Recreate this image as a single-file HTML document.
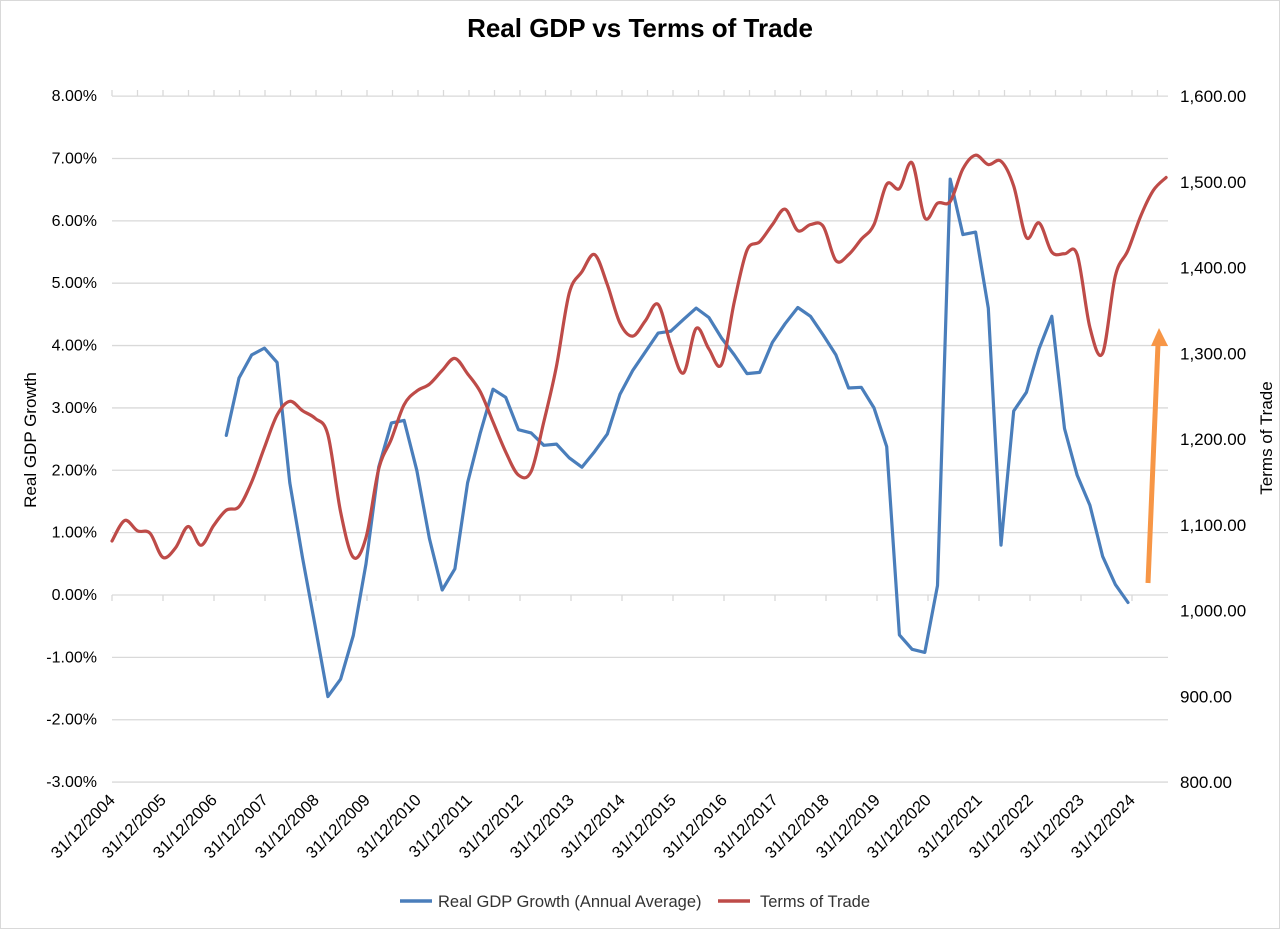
<!DOCTYPE html>
<html><head><meta charset="utf-8"><style>
html,body{margin:0;padding:0;background:#fff;}
svg{display:block;font-family:"Liberation Sans",sans-serif;}
</style></head><body>
<svg id="chart" width="1280" height="929" viewBox="0 0 1280 929">
<rect x="0.5" y="0.5" width="1279" height="928" fill="#fff" stroke="#d9d9d9"/>
<text x="640" y="37" text-anchor="middle" font-size="26" font-weight="bold" fill="#000">Real GDP vs Terms of Trade</text>
<g id="grid"></g><g id="axes"></g><g id="series"></g>
<text transform="translate(36,440) rotate(-90)" text-anchor="middle" font-size="17" fill="#000">Real GDP Growth</text>
<text transform="translate(1272,438) rotate(-90)" text-anchor="middle" font-size="17" fill="#000">Terms of Trade</text>
<g>
<line x1="400" y1="901" x2="432" y2="901" stroke="#4a7ebb" stroke-width="3.5"/>
<text x="438" y="907" font-size="16.5" fill="#333">Real GDP Growth (Annual Average)</text>
<line x1="718" y1="901" x2="750" y2="901" stroke="#be4b48" stroke-width="3.5"/>
<text x="760" y="907" font-size="16.5" fill="#333">Terms of Trade</text>
</g>
<g>
<line x1="1148" y1="583" x2="1158" y2="344" stroke="#f79646" stroke-width="5"/>
<polygon points="1159,328 1151,346 1168,346" fill="#f79646"/>
</g>
</svg>
<script>
const leftTicks=[-3,-2,-1,0,1,2,3,4,5,6,7,8];
const leftTickLabels=["-3.00%","-2.00%","-1.00%","0.00%","1.00%","2.00%","3.00%","4.00%","5.00%","6.00%","7.00%","8.00%"];
const rightTicks=[800,900,1000,1100,1200,1300,1400,1500,1600];
const rightTickLabels=["800.00","900.00","1,000.00","1,100.00","1,200.00","1,300.00","1,400.00","1,500.00","1,600.00"];
const yearLabels=["31/12/2004","31/12/2005","31/12/2006","31/12/2007","31/12/2008","31/12/2009","31/12/2010","31/12/2011","31/12/2012","31/12/2013","31/12/2014","31/12/2015","31/12/2016","31/12/2017","31/12/2018","31/12/2019","31/12/2020","31/12/2021","31/12/2022","31/12/2023","31/12/2024"];
const gdpStart=9;
const gdpGrowth=[2.56,3.48,3.85,3.96,3.73,1.8,0.6,-0.5,-1.63,-1.35,-0.65,0.5,2.05,2.76,2.8,2.0,0.9,0.08,0.42,1.8,2.6,3.3,3.17,2.65,2.6,2.4,2.42,2.2,2.05,2.3,2.58,3.22,3.6,3.9,4.2,4.23,4.42,4.6,4.45,4.12,3.85,3.55,3.57,4.05,4.35,4.61,4.47,4.17,3.85,3.32,3.33,3.0,2.38,-0.64,-0.87,-0.92,0.15,6.67,5.78,5.82,4.6,0.8,2.95,3.25,3.95,4.47,2.67,1.92,1.44,0.62,0.17,-0.12];
const termsOfTrade=[1081,1105,1093,1090,1062,1073,1098,1076,1099,1117,1121,1150,1190,1228,1244,1233,1224,1205,1115,1062,1085,1165,1200,1240,1256,1264,1280,1294,1276,1255,1220,1185,1158,1162,1220,1285,1370,1395,1415,1380,1335,1320,1338,1357,1310,1277,1329,1305,1287,1360,1420,1430,1450,1468,1443,1450,1448,1408,1415,1433,1450,1497,1492,1522,1458,1475,1477,1515,1531,1520,1524,1495,1435,1452,1418,1416,1415,1330,1300,1390,1420,1460,1490,1505];
const NS="http://www.w3.org/2000/svg";
const X0=112,X1=1168,QW=12.7;
function xq(i){return X0+i*QW;}
function yL(v){return 595-v*62.36;}
function yR(v){return 96+(1600-v)*0.8575;}
function mk(tag,attrs,parent){const e=document.createElementNS(NS,tag);for(const k in attrs)e.setAttribute(k,attrs[k]);parent.appendChild(e);return e;}
const grid=document.getElementById('grid'),axes=document.getElementById('axes'),series=document.getElementById('series');
leftTicks.forEach((t,i)=>{
  const l=mk('line',{x1:X0,x2:X1,y1:yL(t),y2:yL(t),stroke:'#d9d9d9','stroke-width':1.3},grid);
  
  
  const tx=mk('text',{x:97,y:yL(t)+5,'text-anchor':'end','font-size':16,fill:'#000'},axes);
  tx.textContent=leftTickLabels[i];
  
  
});
rightTicks.forEach((t,i)=>{
  const tx=mk('text',{x:1180,y:yR(t)+6,'font-size':17,fill:'#000'},axes);
  tx.textContent=rightTickLabels[i];
  
  
});
for(let k=0;k<=21;k++){
  const x=X0+k*51;if(x>X1)break;
  const t=mk('line',{x1:x,x2:x,y1:595,y2:601,stroke:'#d9d9d9','stroke-width':1.3},axes);
  
  
}
for(let k=0;k<=41;k++){
  const x=X0+k*25.5;if(x>X1)break;
  const t=mk('line',{x1:x,x2:x,y1:90,y2:96,stroke:'#d9d9d9','stroke-width':1.3},axes);
  
  
}
yearLabels.forEach((s,k)=>{
  const x=X0+k*51+4,y=801;
  const tx=mk('text',{x:0,y:0,'text-anchor':'end','font-size':16.5,fill:'#000',transform:`translate(${x},${y}) rotate(-45)`},axes);
  tx.textContent=s;
  
  
});
const gp=gdpGrowth.map((v,i)=>xq(gdpStart+i).toFixed(1)+','+yL(v).toFixed(1)).join(' ');
const g=mk('polyline',{points:gp,fill:'none',stroke:'#4a7ebb','stroke-width':3.2,'stroke-linejoin':'round','stroke-linecap':'round'},series);


const pts=termsOfTrade.map((v,i)=>[xq(i),yR(v)]);
let d='M'+pts[0][0].toFixed(1)+','+pts[0][1].toFixed(1);
for(let i=0;i<pts.length-1;i++){
  const p0=pts[Math.max(0,i-1)],p1=pts[i],p2=pts[i+1],p3=pts[Math.min(pts.length-1,i+2)];
  const t=0.5/3;
  const c1=[p1[0]+(p2[0]-p0[0])*t,p1[1]+(p2[1]-p0[1])*t];
  const c2=[p2[0]-(p3[0]-p1[0])*t,p2[1]-(p3[1]-p1[1])*t];
  d+=` C${c1[0].toFixed(1)},${c1[1].toFixed(1)} ${c2[0].toFixed(1)},${c2[1].toFixed(1)} ${p2[0].toFixed(1)},${p2[1].toFixed(1)}`;
}
const r=mk('path',{d:d,fill:'none',stroke:'#be4b48','stroke-width':3.2,'stroke-linecap':'round'},series);


</script>
</body></html>
